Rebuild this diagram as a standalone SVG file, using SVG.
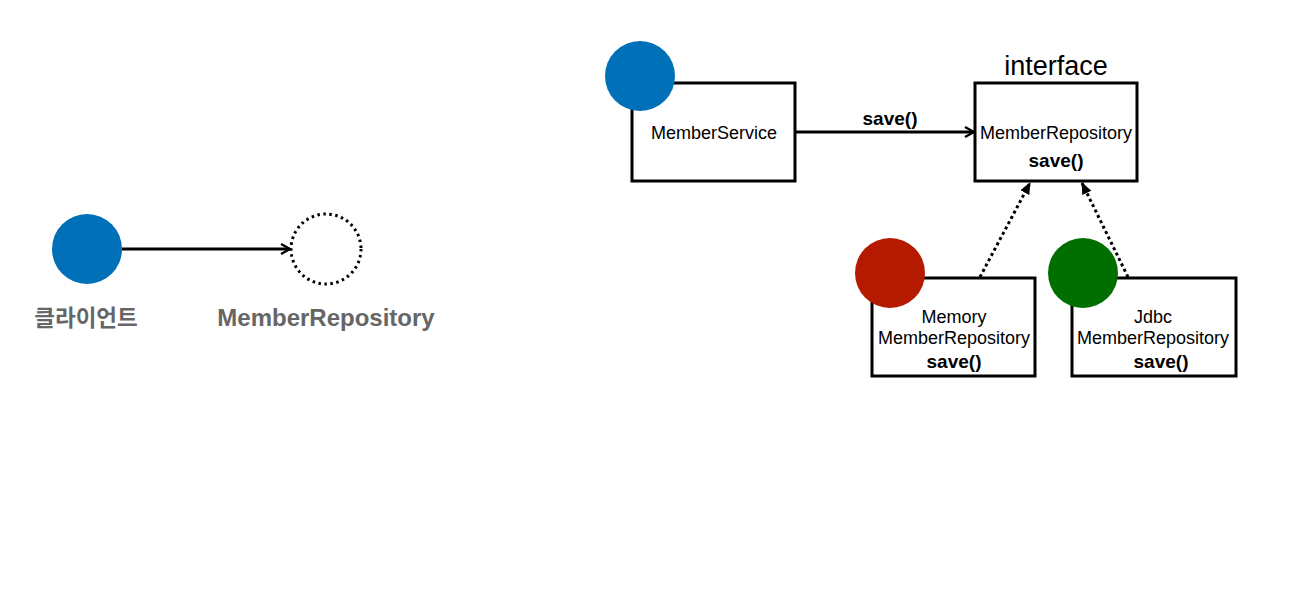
<svg xmlns="http://www.w3.org/2000/svg" width="1292" height="608" viewBox="0 0 1292 608">
<style>
text{font-family:"Liberation Sans","Noto Sans CJK KR",sans-serif;fill:#000;text-anchor:middle}
.box{fill:#fff;stroke:#000;stroke-width:3}
.lbl{font-size:18px}
.b{font-weight:bold;font-size:19px}
.gray{fill:#666;font-weight:bold;font-size:24px}
.conn{stroke:#000;stroke-width:3;fill:none}
.dot{stroke-dasharray:3 3}
</style>
<defs>
<marker id="open" viewBox="0 0 12 12" refX="11" refY="6" markerWidth="12" markerHeight="12" markerUnits="userSpaceOnUse" orient="auto">
<path d="M2,1 L11,6 L2,11" fill="none" stroke="#000" stroke-width="2.2"/>
</marker>
<marker id="tri" viewBox="0 0 12 12" refX="11" refY="6" markerWidth="12" markerHeight="12" markerUnits="userSpaceOnUse" orient="auto">
<path d="M0,1 L12,6 L0,11 Z" fill="#000"/>
</marker>
</defs>
<rect width="1292" height="608" fill="#fff"/>

<g id="client">
<circle cx="87" cy="249" r="35" fill="#0070B8"/>
<text class="gray" x="86" y="326" style="font-size:22.5px">클라이언트</text>
</g>
<g id="repo-placeholder">
<circle cx="326" cy="249" r="35" fill="none" stroke="#000" stroke-width="3" stroke-dasharray="2.5 3.5"/>
<text class="gray" x="326" y="326">MemberRepository</text>
</g>

<g id="member-service">
<rect class="box" x="632" y="83" width="163" height="98"/>
<circle cx="640" cy="76" r="35" fill="#0070B8"/>
<text class="lbl" x="714" y="139">MemberService</text>
</g>

<g id="member-repository">
<text x="1056" y="75" style="font-size:27px">interface</text>
<rect class="box" x="975" y="83" width="162" height="98"/>
<text class="lbl" x="1056" y="139">MemberRepository</text>
<text class="b" x="1056" y="167">save()</text>
</g>

<g id="memory-repository">
<rect class="box" x="872" y="278" width="163" height="98"/>
<circle cx="890" cy="273" r="35" fill="#B51A00"/>
<text class="lbl" x="954" y="323">Memory</text>
<text class="lbl" x="954" y="344">MemberRepository</text>
<text class="b" x="954" y="368">save()</text>
</g>

<g id="jdbc-repository">
<rect class="box" x="1072" y="278" width="164" height="98"/>
<circle cx="1083" cy="273" r="35" fill="#006F00"/>
<text class="lbl" x="1153" y="323">Jdbc</text>
<text class="lbl" x="1153" y="344">MemberRepository</text>
<text class="b" x="1161" y="368">save()</text>
</g>

<g id="connectors">
<line class="conn" x1="122" y1="249" x2="290" y2="249" marker-end="url(#open)"/>
<line class="conn" x1="795" y1="132" x2="974" y2="132" marker-end="url(#open)"/>
<text class="b" x="890" y="125">save()</text>
<line class="conn dot" x1="980" y1="277" x2="1030" y2="183" marker-end="url(#tri)"/>
<line class="conn dot" x1="1128" y1="277" x2="1082" y2="183" marker-end="url(#tri)"/>
</g>
</svg>
